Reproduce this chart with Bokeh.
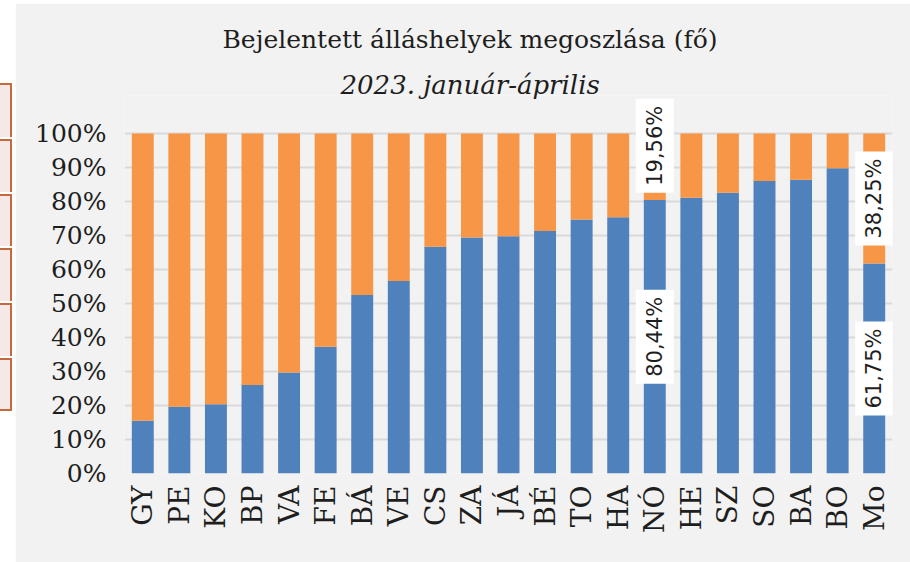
import math
from bokeh.plotting import figure
from bokeh.models import (ColumnDataSource, FactorRange, Range1d, Title, Div,
                          FixedTicker, PrintfTickFormatter, Label)
from bokeh.layouts import row
from bokeh.embed import file_html
from bokeh.resources import INLINE

# ---- data -------------------------------------------------------------
counties = ["GY", "PE", "KO", "BP", "VA", "FE", "BÁ", "VE", "CS", "ZA", "JÁ",
            "BÉ", "TO", "HA", "NÓ", "HE", "SZ", "SO", "BA", "BO", "Mo"]
blue_share = [15.5, 19.6, 20.4, 26.0, 29.7, 37.3, 52.5, 56.6, 66.7, 69.4, 69.8,
              71.3, 74.7, 75.4, 80.44, 81.1, 82.6, 86.0, 86.4, 89.8, 61.75]
orange_share = [round(100 - v, 2) for v in blue_share]
labelled = ["NÓ", "Mo"]
y_ticks = [0, 10, 20, 30, 40, 50, 60, 70, 80, 90, 100]

title_text = "Bejelentett álláshelyek megoszlása (fő)"
subtitle_text = "2023. január-április"

BLUE = "#4F81BD"
ORANGE = "#F79646"
BG = "#F2F2F2"
GRID = "#D9D9D9"
TXT = "#1E1E1E"
SERIF = "DejaVu Serif"

source = ColumnDataSource(dict(county=counties, kek=blue_share, narancs=orange_share))

# the frame reaches a little above 100% so the raised label is not clipped
p = figure(x_range=FactorRange(factors=counties, range_padding=0),
           y_range=Range1d(0, 111.18), width=895, height=559,
           output_backend="svg", toolbar_location=None, title=None,
           min_border_left=109, min_border_right=18, min_border_bottom=89,
           min_border_top=92)
p.margin = (3, 0, 0, 0)
p.background_fill_color = BG
p.border_fill_color = BG
p.outline_line_color = None

sub = Title(text=subtitle_text, text_font=SERIF, text_font_size="26px",
            text_font_style="italic", text_color=TXT, align="left", offset=216)
try:
    sub.standoff = -9
except Exception:
    sub.standoff = 0
main_standoff = 38 - 2 * (sub.standoff + 9)
main = Title(text=title_text, text_font=SERIF, text_font_size="25px",
             text_font_style="normal", text_color=TXT, align="left",
             offset=98, standoff=main_standoff)
p.add_layout(sub, "above")
p.add_layout(main, "above")

p.vbar_stack(["kek", "narancs"], x="county", width=0.6, color=[BLUE, ORANGE],
             line_color=None, source=source)

# value labels
for c in labelled:
    i = counties.index(c)
    b = blue_share[i]
    o = orange_share[i]
    for yv, val, off in ((b / 2, b, 0), (b + o / 2, o, 21 if o < 25 else 0)):
        p.add_layout(Label(x=i + 0.5, y=yv, text=f"{val:.2f}".replace(".", ",") + "%",
                           angle=math.pi / 2, text_align="center", text_baseline="middle",
                           text_font="DejaVu Sans", text_font_size="21px", text_color=TXT,
                           background_fill_color="white", padding=7, y_offset=off))

p.xgrid.grid_line_color = None
p.ygrid.grid_line_color = GRID
p.ygrid.grid_line_width = 2
p.yaxis.ticker = FixedTicker(ticks=y_ticks)
p.yaxis.formatter = PrintfTickFormatter(format="%d%%")
for ax in (p.xaxis, p.yaxis):
    ax.axis_line_color = None
    ax.major_tick_line_color = None
    ax.minor_tick_line_color = None
    ax.major_tick_out = 0
    ax.major_tick_in = 0
    ax.major_label_text_font = SERIF
    ax.major_label_text_color = TXT
p.yaxis.major_label_text_font_size = "25px"
p.xaxis.major_label_text_font_size = "28px"
p.yaxis.major_label_standoff = 18
p.xaxis.major_label_standoff = 12
p.xaxis.major_label_orientation = math.pi / 2

# fragment of neighbouring figure at the left edge
box_edges = [83, 139, 194, 248, 303, 358, 413]
inner = ""
for a, b in zip(box_edges[:-1], box_edges[1:]):
    inner += (f'<div style="position:absolute;left:0;top:{a}px;width:12px;height:{b-a-2}px;'
              f'background:#F5E8E6;border-top:2px solid #C46A3C;border-right:2px solid #C46A3C;'
              f'{"border-bottom:2px solid #C46A3C;" if b == box_edges[-1] else ""}"></div>')
left = Div(text=f'<div style="position:relative;width:15px;height:562px;background:white">{inner}</div>',
           width=15, height=562, margin=0)

layout = row(left, p, spacing=0)
open("out.html", "w").write(file_html(layout, INLINE))
